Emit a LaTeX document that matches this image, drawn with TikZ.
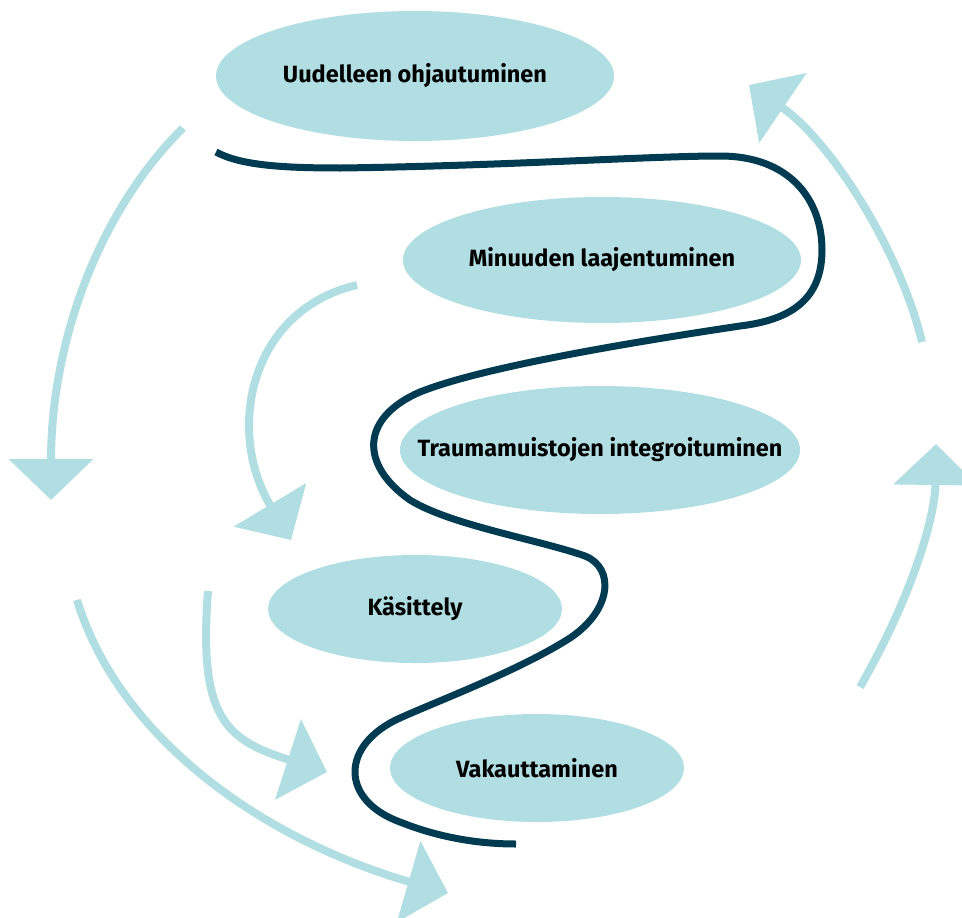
\documentclass[tikz,border=0pt]{standalone}
\usepackage{fontspec}
\setmainfont{Fira Sans}
\usetikzlibrary{shapes.geometric,arrows.meta}
\definecolor{pale}{HTML}{B0DEE3}
\definecolor{ink}{HTML}{003B52}
\begin{document}
\begin{tikzpicture}[x=1pt,y=-1pt,
  stage/.style={ellipse, fill=pale, inner sep=0pt,
    label={[font=\fontsize{23.5}{28}\selectfont\bfseries, text=black]center:#1}},
  flow/.style={draw=pale, line width=8pt, -{Triangle[length=41pt,width=83pt]}},
  thread/.style={draw=ink, line width=7pt}
]
\useasboundingbox (0,0) rectangle (962,918);

% stages
\node[stage={Uudelleen ohjautuminen}, minimum width=398pt, minimum height=130pt] (s1) at (415,76) {};
\node[stage={Minuuden laajentuminen}, minimum width=398pt, minimum height=126pt] (s2) at (602,260) {};
\node[stage={Traumamuistojen integroituminen}, minimum width=400pt, minimum height=128pt] (s3) at (600,450) {};
\node[stage={Käsittely}, minimum width=294pt, minimum height=108pt] (s4) at (415,609) {};
\node[stage={Vakauttaminen}, minimum width=294pt, minimum height=108pt] (s5) at (537,768) {};

% winding thread through the stages
\coordinate (t0) at (216,152);
\coordinate (t9) at (516,844);
\draw[thread] (t0)
  .. controls (240,165) and (280,168) .. (340,168)
  .. controls (500,166) and (650,156) .. (720,156)
  .. controls (790,156) and (822,200) .. (822,250)
  .. controls (822,300) and (790,320) .. (740,326)
  .. controls (620,344) and (480,368) .. (420,392)
  .. controls (360,418) and (360,465) .. (410,500)
  .. controls (450,525) and (540,540) .. (585,556)
  .. controls (615,568) and (612,610) .. (570,638)
  .. controls (520,670) and (440,700) .. (400,718)
  .. controls (340,745) and (340,800) .. (400,822)
  .. controls (440,838) and (480,844) .. (t9);

% outer cycle
\coordinate (a0) at (183,128);  \coordinate (a1) at (51,500);
\coordinate (b0) at (77,600);   \coordinate (b1) at (448,893);
\coordinate (c0) at (860,687);  \coordinate (c1) at (936,444);
\coordinate (d0) at (922,342);  \coordinate (d1) at (749,85);
\draw[flow] (a0) .. controls (100,210) and (51,340) .. (a1);
\draw[flow] (b0) .. controls (120,740) and (265,840) .. (b1);
\draw[flow] (c0) .. controls (910,600) and (935,520) .. (c1);
\draw[flow] (d0) .. controls (900,250) and (830,140) .. (d1);

% inner cycle
\coordinate (e0) at (357,285);  \coordinate (e1) at (291,540);
\coordinate (f0) at (208,591);  \coordinate (f1) at (327,772);
\draw[flow] (e0) .. controls (250,310) and (225,430) .. (e1);
\draw[flow] (f0) .. controls (198,720) and (227,740) .. (f1);
\end{tikzpicture}
\end{document}
